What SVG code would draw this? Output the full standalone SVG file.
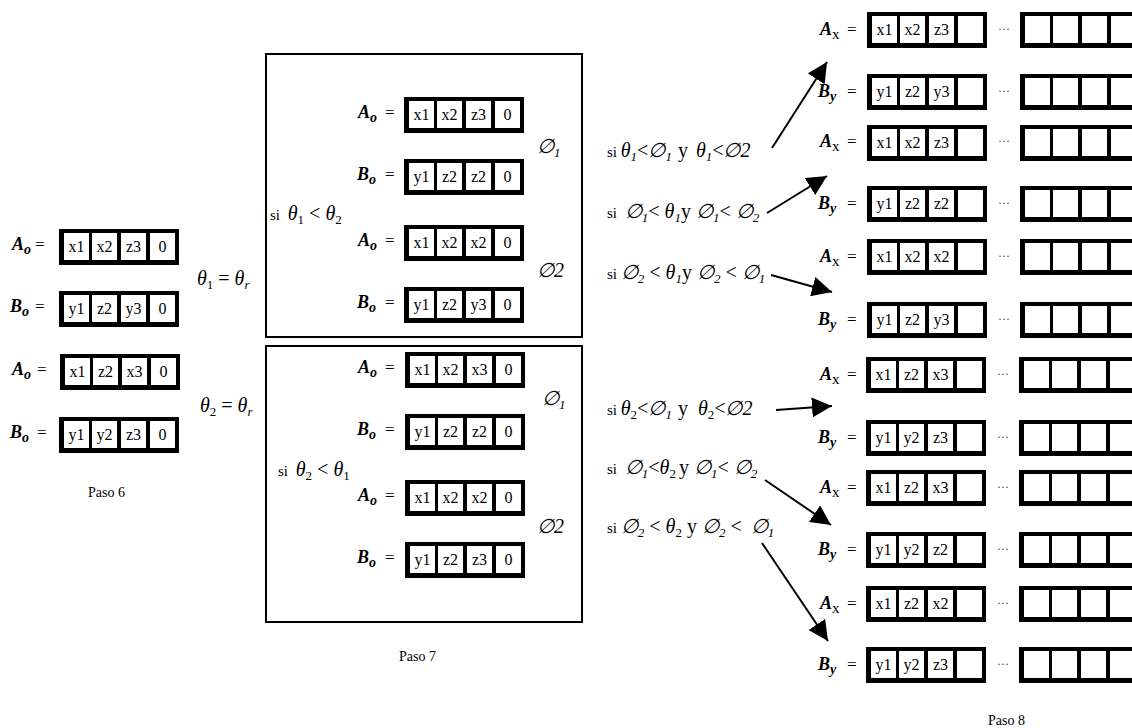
<svg xmlns="http://www.w3.org/2000/svg" xmlns:xlink="http://www.w3.org/1999/xlink" width="1132" height="728" viewBox="0 0 1132 728">
<style>
text{font-family:"Liberation Serif","DejaVu Serif",serif;fill:#000}
.lbl{font-weight:bold;font-style:italic;font-size:18px}
.sb{font-weight:bold;font-style:italic;font-size:14px}
.sr{font-weight:normal;font-style:normal;font-size:15px}
.eq{font-size:17px}
.cell{font-size:16px;text-anchor:middle}
.m{font-style:italic;font-size:20px}
.ms{font-style:italic;font-size:13px}
.si{font-size:15px;font-style:normal}
.up{font-style:normal}
.dots{font-size:12px;fill:#444}
.cap{font-size:14px}
.box{fill:none;stroke:#000;stroke-width:2}
.con{stroke:#000;stroke-width:2;fill:none;marker-end:url(#ah)}
</style>
<defs>
<g id="arr">
<rect width="120" height="36" fill="#000"/>
<rect x="5" y="4" width="25" height="27" fill="#fff"/>
<rect x="33" y="4" width="25" height="27" fill="#fff"/>
<rect x="62" y="4" width="25" height="27" fill="#fff"/>
<rect x="91" y="4" width="25" height="27" fill="#fff"/>
</g>
<marker id="ah" viewBox="0 0 20 20" refX="20" refY="10" markerWidth="20" markerHeight="20" markerUnits="userSpaceOnUse" orient="auto">
<path d="M0,0 L20,10 L0,20 z" fill="#000"/>
</marker>
</defs>
<rect width="1132" height="728" fill="#fff"/>

<!-- Paso 6 -->
<g id="p6-a1">
<text x="12" y="250" class="lbl">A<tspan class="sb" dy="4">o</tspan></text><text x="35" y="250" class="eq">=</text>
<use xlink:href="#arr" x="59" y="229"/>
<g transform="translate(59,229)"><text x="17.5" y="23" class="cell">x1</text><text x="45.5" y="23" class="cell">x2</text><text x="74.5" y="23" class="cell">z3</text><text x="103.5" y="23" class="cell">0</text></g>
</g>
<g id="p6-b1">
<text x="10" y="312" class="lbl">B<tspan class="sb" dy="4">o</tspan></text><text x="35" y="312" class="eq">=</text>
<use xlink:href="#arr" x="59" y="291"/>
<g transform="translate(59,291)"><text x="17.5" y="23" class="cell">y1</text><text x="45.5" y="23" class="cell">z2</text><text x="74.5" y="23" class="cell">y3</text><text x="103.5" y="23" class="cell">0</text></g>
</g>
<g id="p6-a2">
<text x="12" y="375" class="lbl">A<tspan class="sb" dy="4">o</tspan></text><text x="37" y="375" class="eq">=</text>
<use xlink:href="#arr" x="60" y="354"/>
<g transform="translate(60,354)"><text x="17.5" y="23" class="cell">x1</text><text x="45.5" y="23" class="cell">z2</text><text x="74.5" y="23" class="cell">x3</text><text x="103.5" y="23" class="cell">0</text></g>
</g>
<g id="p6-b2">
<text x="10" y="438" class="lbl">B<tspan class="sb" dy="4">o</tspan></text><text x="37" y="438" class="eq">=</text>
<use xlink:href="#arr" x="59" y="417"/>
<g transform="translate(59,417)"><text x="17.5" y="23" class="cell">y1</text><text x="45.5" y="23" class="cell">y2</text><text x="74.5" y="23" class="cell">z3</text><text x="103.5" y="23" class="cell">0</text></g>
</g>
<text x="88" y="497" class="cap">Paso 6</text>

<g id="theta1"><text x="197" y="285" class="m">θ<tspan class="ms up" dy="4">1</tspan><tspan class="up" dy="-4"> = </tspan> θ<tspan class="ms" dy="4">r</tspan></text></g>
<g id="theta2"><text x="200" y="412" class="m">θ<tspan class="ms up" dy="4">2</tspan><tspan class="up" dy="-4"> = </tspan>θ<tspan class="ms" dy="4">r</tspan></text></g>

<!-- Paso 7 top box -->
<g id="box1">
<rect x="266" y="54" width="316" height="283" class="box"/>
<text x="270" y="220" class="si">si <tspan class="m" dx="4">θ</tspan><tspan class="ms up" dy="4">1</tspan><tspan class="m up" dy="-4"> &lt; </tspan><tspan class="m">θ</tspan><tspan class="ms up" dy="4">2</tspan></text>
<text x="537" y="153" class="m">∅<tspan class="ms" dy="4">1</tspan></text>
<text x="537" y="277" class="m">∅2</text>
<g id="b1-a1"><text x="358" y="118" class="lbl">A<tspan class="sb" dy="4">o</tspan></text><text x="385" y="118" class="eq">=</text>
<use xlink:href="#arr" x="404" y="97"/>
<g transform="translate(404,97)"><text x="17.5" y="23" class="cell">x1</text><text x="45.5" y="23" class="cell">x2</text><text x="74.5" y="23" class="cell">z3</text><text x="103.5" y="23" class="cell">0</text></g></g>
<g id="b1-b1"><text x="357" y="180" class="lbl">B<tspan class="sb" dy="4">o</tspan></text><text x="385" y="180" class="eq">=</text>
<use xlink:href="#arr" x="404" y="159"/>
<g transform="translate(404,159)"><text x="17.5" y="23" class="cell">y1</text><text x="45.5" y="23" class="cell">z2</text><text x="74.5" y="23" class="cell">z2</text><text x="103.5" y="23" class="cell">0</text></g></g>
<g id="b1-a2"><text x="358" y="246" class="lbl">A<tspan class="sb" dy="4">o</tspan></text><text x="385" y="246" class="eq">=</text>
<use xlink:href="#arr" x="404" y="225"/>
<g transform="translate(404,225)"><text x="17.5" y="23" class="cell">x1</text><text x="45.5" y="23" class="cell">x2</text><text x="74.5" y="23" class="cell">x2</text><text x="103.5" y="23" class="cell">0</text></g></g>
<g id="b1-b2"><text x="357" y="308" class="lbl">B<tspan class="sb" dy="4">o</tspan></text><text x="385" y="308" class="eq">=</text>
<use xlink:href="#arr" x="404" y="287"/>
<g transform="translate(404,287)"><text x="17.5" y="23" class="cell">y1</text><text x="45.5" y="23" class="cell">z2</text><text x="74.5" y="23" class="cell">y3</text><text x="103.5" y="23" class="cell">0</text></g></g>
</g>

<!-- Paso 7 bottom box -->
<g id="box2">
<rect x="266" y="346" width="316" height="276" class="box"/>
<text x="278" y="476" class="si">si <tspan class="m" dx="4">θ</tspan><tspan class="ms up" dy="4">2</tspan><tspan class="m up" dy="-4"> &lt; </tspan><tspan class="m">θ</tspan><tspan class="ms up" dy="4">1</tspan></text>
<text x="542" y="405" class="m">∅<tspan class="ms" dy="4">1</tspan></text>
<text x="537" y="533" class="m">∅2</text>
<g id="b2-a1"><text x="358" y="373" class="lbl">A<tspan class="sb" dy="4">o</tspan></text><text x="385" y="373" class="eq">=</text>
<use xlink:href="#arr" x="405" y="352"/>
<g transform="translate(405,352)"><text x="17.5" y="23" class="cell">x1</text><text x="45.5" y="23" class="cell">x2</text><text x="74.5" y="23" class="cell">x3</text><text x="103.5" y="23" class="cell">0</text></g></g>
<g id="b2-b1"><text x="357" y="435" class="lbl">B<tspan class="sb" dy="4">o</tspan></text><text x="385" y="435" class="eq">=</text>
<use xlink:href="#arr" x="405" y="414"/>
<g transform="translate(405,414)"><text x="17.5" y="23" class="cell">y1</text><text x="45.5" y="23" class="cell">z2</text><text x="74.5" y="23" class="cell">z2</text><text x="103.5" y="23" class="cell">0</text></g></g>
<g id="b2-a2"><text x="358" y="501" class="lbl">A<tspan class="sb" dy="4">o</tspan></text><text x="385" y="501" class="eq">=</text>
<use xlink:href="#arr" x="405" y="480"/>
<g transform="translate(405,480)"><text x="17.5" y="23" class="cell">x1</text><text x="45.5" y="23" class="cell">x2</text><text x="74.5" y="23" class="cell">x2</text><text x="103.5" y="23" class="cell">0</text></g></g>
<g id="b2-b2"><text x="357" y="563" class="lbl">B<tspan class="sb" dy="4">o</tspan></text><text x="385" y="563" class="eq">=</text>
<use xlink:href="#arr" x="405" y="542"/>
<g transform="translate(405,542)"><text x="17.5" y="23" class="cell">y1</text><text x="45.5" y="23" class="cell">z2</text><text x="74.5" y="23" class="cell">z3</text><text x="103.5" y="23" class="cell">0</text></g></g>
</g>
<text x="399" y="661" class="cap">Paso 7</text>

<!-- Conditions -->
<g id="cond1"><text x="607" y="157" class="si">si <tspan class="m">θ</tspan><tspan class="ms" dy="4">1</tspan><tspan class="m up" dy="-4">&lt;</tspan><tspan class="m">∅</tspan><tspan class="ms" dy="4">1</tspan><tspan class="m up" dy="-4" dx="6">y</tspan><tspan class="m" dx="8">θ</tspan><tspan class="ms" dy="4">1</tspan><tspan class="m up" dy="-4">&lt;</tspan><tspan class="m">∅2</tspan></text></g>
<g id="cond2"><text x="607" y="218" class="si">si <tspan class="m" dx="4">∅</tspan><tspan class="ms" dy="4">1</tspan><tspan class="m up" dy="-4">&lt; </tspan><tspan class="m">θ</tspan><tspan class="ms" dy="4">1</tspan><tspan class="m up" dy="-4">y </tspan><tspan class="m">∅</tspan><tspan class="ms" dy="4">1</tspan><tspan class="m up" dy="-4">&lt; </tspan><tspan class="m">∅</tspan><tspan class="ms" dy="4">2</tspan></text></g>
<g id="cond3"><text x="607" y="279" class="si">si <tspan class="m">∅</tspan><tspan class="ms" dy="4">2</tspan><tspan class="m up" dy="-4"> &lt; </tspan><tspan class="m">θ</tspan><tspan class="ms" dy="4">1</tspan><tspan class="m up" dy="-4">y </tspan><tspan class="m">∅</tspan><tspan class="ms" dy="4">2</tspan><tspan class="m up" dy="-4"> &lt; </tspan><tspan class="m">∅</tspan><tspan class="ms" dy="4">1</tspan></text></g>
<g id="cond4"><text x="607" y="415" class="si">si <tspan class="m">θ</tspan><tspan class="ms up" dy="4">2</tspan><tspan class="m up" dy="-4">&lt;</tspan><tspan class="m">∅</tspan><tspan class="ms" dy="4">1</tspan><tspan class="m up" dy="-4" dx="6">y</tspan><tspan class="m" dx="10">θ</tspan><tspan class="ms up" dy="4">2</tspan><tspan class="m up" dy="-4">&lt;</tspan><tspan class="m">∅2</tspan></text></g>
<g id="cond5"><text x="607" y="474" class="si">si <tspan class="m" dx="4">∅</tspan><tspan class="ms" dy="4">1</tspan><tspan class="m up" dy="-4">&lt;</tspan><tspan class="m">θ</tspan><tspan class="ms up" dy="4">2</tspan><tspan class="m up" dy="-4" dx="3">y </tspan><tspan class="m">∅</tspan><tspan class="ms" dy="4">1</tspan><tspan class="m up" dy="-4">&lt; </tspan><tspan class="m">∅</tspan><tspan class="ms" dy="4">2</tspan></text></g>
<g id="cond6"><text x="607" y="533" class="si">si <tspan class="m">∅</tspan><tspan class="ms" dy="4">2</tspan><tspan class="m up" dy="-4"> &lt; </tspan><tspan class="m">θ</tspan><tspan class="ms up" dy="4">2</tspan><tspan class="m up" dy="-4"> y </tspan><tspan class="m">∅</tspan><tspan class="ms" dy="4">2</tspan><tspan class="m up" dy="-4"> &lt;  </tspan><tspan class="m" dx="4">∅</tspan><tspan class="ms" dy="4">1</tspan></text></g>

<!-- Connectors -->
<g id="connectors">
<line x1="772" y1="148" x2="827" y2="62" class="con"/>
<line x1="767" y1="213" x2="827" y2="176" class="con"/>
<line x1="771" y1="275" x2="832" y2="292" class="con"/>
<line x1="776" y1="410" x2="832" y2="406" class="con"/>
<line x1="765" y1="480" x2="831" y2="525" class="con"/>
<line x1="762" y1="543" x2="828" y2="641" class="con"/>
</g>

<!-- Paso 8 -->
<g id="r1"><text x="820" y="35" class="lbl">A<tspan class="sr" dy="4">x</tspan></text><text x="847" y="35" class="eq">=</text>
<use xlink:href="#arr" x="867" y="12"/><g transform="translate(867,12)"><text x="17.5" y="23" class="cell">x1</text><text x="45.5" y="23" class="cell">x2</text><text x="74.5" y="23" class="cell">z3</text></g>
<text x="998" y="33" class="dots">···</text><use xlink:href="#arr" x="1020" y="12"/></g>
<g id="r2"><text x="818" y="97" class="lbl">B<tspan class="sb" dy="4">y</tspan></text><text x="847" y="97" class="eq">=</text>
<use xlink:href="#arr" x="867" y="74"/><g transform="translate(867,74)"><text x="17.5" y="23" class="cell">y1</text><text x="45.5" y="23" class="cell">z2</text><text x="74.5" y="23" class="cell">y3</text></g>
<text x="998" y="95" class="dots">···</text><use xlink:href="#arr" x="1020" y="74"/></g>
<g id="r3"><text x="820" y="147" class="lbl">A<tspan class="sr" dy="4">x</tspan></text><text x="847" y="147" class="eq">=</text>
<use xlink:href="#arr" x="867" y="125"/><g transform="translate(867,125)"><text x="17.5" y="23" class="cell">x1</text><text x="45.5" y="23" class="cell">x2</text><text x="74.5" y="23" class="cell">z3</text></g>
<text x="998" y="145" class="dots">···</text><use xlink:href="#arr" x="1020" y="125"/></g>
<g id="r4"><text x="818" y="209" class="lbl">B<tspan class="sb" dy="4">y</tspan></text><text x="847" y="209" class="eq">=</text>
<use xlink:href="#arr" x="867" y="186"/><g transform="translate(867,186)"><text x="17.5" y="23" class="cell">y1</text><text x="45.5" y="23" class="cell">z2</text><text x="74.5" y="23" class="cell">z2</text></g>
<text x="998" y="207" class="dots">···</text><use xlink:href="#arr" x="1020" y="186"/></g>
<g id="r5"><text x="820" y="262" class="lbl">A<tspan class="sr" dy="4">x</tspan></text><text x="847" y="262" class="eq">=</text>
<use xlink:href="#arr" x="867" y="239"/><g transform="translate(867,239)"><text x="17.5" y="23" class="cell">x1</text><text x="45.5" y="23" class="cell">x2</text><text x="74.5" y="23" class="cell">x2</text></g>
<text x="998" y="260" class="dots">···</text><use xlink:href="#arr" x="1020" y="239"/></g>
<g id="r6"><text x="818" y="325" class="lbl">B<tspan class="sb" dy="4">y</tspan></text><text x="847" y="325" class="eq">=</text>
<use xlink:href="#arr" x="867" y="302"/><g transform="translate(867,302)"><text x="17.5" y="23" class="cell">y1</text><text x="45.5" y="23" class="cell">z2</text><text x="74.5" y="23" class="cell">y3</text></g>
<text x="998" y="323" class="dots">···</text><use xlink:href="#arr" x="1020" y="302"/></g>
<g id="r7"><text x="820" y="380" class="lbl">A<tspan class="sr" dy="4">x</tspan></text><text x="847" y="380" class="eq">=</text>
<use xlink:href="#arr" x="866" y="357"/><g transform="translate(866,357)"><text x="17.5" y="23" class="cell">x1</text><text x="45.5" y="23" class="cell">z2</text><text x="74.5" y="23" class="cell">x3</text></g>
<text x="997" y="378" class="dots">···</text><use xlink:href="#arr" x="1019" y="357"/></g>
<g id="r8"><text x="818" y="443" class="lbl">B<tspan class="sb" dy="4">y</tspan></text><text x="847" y="443" class="eq">=</text>
<use xlink:href="#arr" x="866" y="420"/><g transform="translate(866,420)"><text x="17.5" y="23" class="cell">y1</text><text x="45.5" y="23" class="cell">y2</text><text x="74.5" y="23" class="cell">z3</text></g>
<text x="997" y="441" class="dots">···</text><use xlink:href="#arr" x="1019" y="420"/></g>
<g id="r9"><text x="820" y="493" class="lbl">A<tspan class="sr" dy="4">x</tspan></text><text x="847" y="493" class="eq">=</text>
<use xlink:href="#arr" x="866" y="470"/><g transform="translate(866,470)"><text x="17.5" y="23" class="cell">x1</text><text x="45.5" y="23" class="cell">z2</text><text x="74.5" y="23" class="cell">x3</text></g>
<text x="997" y="491" class="dots">···</text><use xlink:href="#arr" x="1019" y="470"/></g>
<g id="r10"><text x="818" y="555" class="lbl">B<tspan class="sb" dy="4">y</tspan></text><text x="847" y="555" class="eq">=</text>
<use xlink:href="#arr" x="866" y="532"/><g transform="translate(866,532)"><text x="17.5" y="23" class="cell">y1</text><text x="45.5" y="23" class="cell">y2</text><text x="74.5" y="23" class="cell">z2</text></g>
<text x="997" y="553" class="dots">···</text><use xlink:href="#arr" x="1019" y="532"/></g>
<g id="r11"><text x="820" y="609" class="lbl">A<tspan class="sr" dy="4">x</tspan></text><text x="847" y="609" class="eq">=</text>
<use xlink:href="#arr" x="866" y="586"/><g transform="translate(866,586)"><text x="17.5" y="23" class="cell">x1</text><text x="45.5" y="23" class="cell">z2</text><text x="74.5" y="23" class="cell">x2</text></g>
<text x="997" y="607" class="dots">···</text><use xlink:href="#arr" x="1019" y="586"/></g>
<g id="r12"><text x="818" y="670" class="lbl">B<tspan class="sb" dy="4">y</tspan></text><text x="847" y="670" class="eq">=</text>
<use xlink:href="#arr" x="866" y="647"/><g transform="translate(866,647)"><text x="17.5" y="23" class="cell">y1</text><text x="45.5" y="23" class="cell">y2</text><text x="74.5" y="23" class="cell">z3</text></g>
<text x="997" y="668" class="dots">···</text><use xlink:href="#arr" x="1019" y="647"/></g>
<text x="988" y="725" class="cap">Paso 8</text>
</svg>
